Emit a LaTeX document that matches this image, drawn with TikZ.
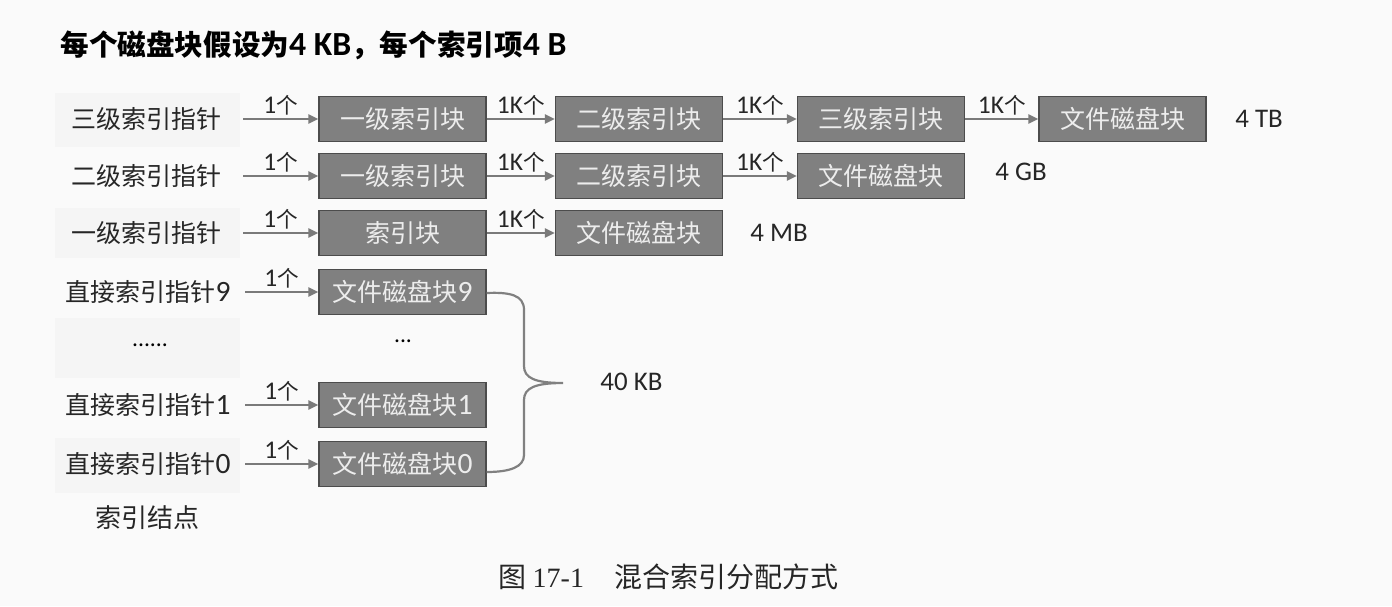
\documentclass[tikz,border=0pt]{standalone}
\usepackage{fontspec}
\setmainfont{Noto Sans CJK SC}
\newfontfamily\lat[Scale=1.18]{Carlito}
\newfontfamily\latserif{Liberation Serif}
\usetikzlibrary{arrows.meta}
\begin{document}
\begin{tikzpicture}[x=0.5pt,y=-0.5pt,
 blk/.style={draw=black!70, line width=0.6pt, fill=black!50, text=black!7, minimum width=83.5pt, minimum height=22.5pt, inner sep=0pt, font=\fontsize{12.5}{14}\selectfont},
 lbl/.style={anchor=east, font=\fontsize{12.5}{14}\selectfont, text=black!85, inner sep=0pt},
 cnt/.style={font=\fontsize{10.8}{12}\selectfont, above, inner sep=1.5pt, text=black!85},
 arr/.style={draw=black!52, line width=1.1pt, -{Triangle[length=5pt,width=4.5pt]}},
 sz/.style={anchor=west, font=\lat\fontsize{11.4}{14}\selectfont, inner sep=0pt, text=black!85},
 tex/.style={fill=black!4},
]
\useasboundingbox (0,0) rectangle (1392,606);
\fill[black!2] (0,0) rectangle (1392,606);
% faint textured panels
\fill[tex] (55,93) rectangle (240,147);
\fill[tex] (55,208) rectangle (240,258);
\fill[tex] (55,318) rectangle (240,378);
\fill[tex] (55,438) rectangle (240,493);

% title
\node[anchor=west, inner sep=0pt, font=\bfseries\fontsize{14.3}{16}\selectfont] (title) at (60,45)
  {每个磁盘块假设为{\lat\bfseries 4 KB}，每个索引项{\lat\bfseries 4 B}};

% left labels
\node[lbl] (la) at (222,119) {三级索引指针};
\node[lbl] (lb) at (222,176) {二级索引指针};
\node[lbl] (lc) at (222,233) {一级索引指针};
\node[lbl] (l9) at (231,292) {直接索引指针{\lat 9}};
\node[inner sep=0pt, font=\lat\fontsize{10}{12}\selectfont] (ldots) at (150,345) {......};
\node[lbl] (l1) at (231,405) {直接索引指针{\lat 1}};
\node[lbl] (l0) at (231,464) {直接索引指针{\lat 0}};
\node[inner sep=0pt, font=\fontsize{13}{15}\selectfont, text=black!85] (inode) at (147,518) {索引结点};

% arrow start points
\coordinate (sa) at (243,119);
\coordinate (sb) at (243,176);
\coordinate (sc) at (243,233);
\coordinate (s9) at (245,292);
\coordinate (s1) at (245,405);
\coordinate (s0) at (245,464);

% row a
\node[blk] (a1) at (402.5,119) {一级索引块};
\node[blk] (a2) at (639,119) {二级索引块};
\node[blk] (a3) at (881,119) {三级索引块};
\node[blk] (a4) at (1122.5,119) {文件磁盘块};
\node[sz] (ta) at (1235,119) {4 TB};
% row b
\node[blk] (b1) at (402.5,176) {一级索引块};
\node[blk] (b2) at (639,176) {二级索引块};
\node[blk] (b3) at (881,176) {文件磁盘块};
\node[sz] (tb) at (995,172) {4 GB};
% row c
\node[blk] (c1) at (402.5,233) {索引块};
\node[blk] (c2) at (639,233) {文件磁盘块};
\node[sz] (tc) at (750,233) {4 MB};
% direct
\node[blk] (d9) at (402.5,292) {文件磁盘块{\lat 9}};
\node[inner sep=0pt, font=\lat\fontsize{10}{12}\selectfont] (ddots) at (403,341) {...};
\node[blk] (d1) at (402.5,405) {文件磁盘块{\lat 1}};
\node[blk] (d0) at (402.5,464) {文件磁盘块{\lat 0}};
\node[sz] (tk) at (600,382) {40 KB};

% arrows
\draw[arr] (sa) -- (a1) node[cnt,midway] {{\lat 1}个};
\draw[arr] (a1) -- (a2) node[cnt,midway] {{\lat 1K}个};
\draw[arr] (a2) -- (a3) node[cnt,midway] {{\lat 1K}个};
\draw[arr] (a3) -- (a4) node[cnt,midway] {{\lat 1K}个};
\draw[arr] (sb) -- (b1) node[cnt,midway] {{\lat 1}个};
\draw[arr] (b1) -- (b2) node[cnt,midway] {{\lat 1K}个};
\draw[arr] (b2) -- (b3) node[cnt,midway] {{\lat 1K}个};
\draw[arr] (sc) -- (c1) node[cnt,midway] {{\lat 1}个};
\draw[arr] (c1) -- (c2) node[cnt,midway] {{\lat 1K}个};
\draw[arr] (s9) -- (d9) node[cnt,midway] {{\lat 1}个};
\draw[arr] (s1) -- (d1) node[cnt,midway] {{\lat 1}个};
\draw[arr] (s0) -- (d0) node[cnt,midway] {{\lat 1}个};

% brace
\coordinate (bt) at ([yshift=-0.5pt]d9.east);
\coordinate (bb) at ([yshift=-4pt]d0.east);
\draw[black!50, line width=1.1pt]
  (bt) .. controls (510,292) and (524,295) .. (524,310)
  -- (524,366) .. controls (524,378) and (535,383) .. (563,383)
  .. controls (535,383) and (524,388) .. (524,400)
  -- (524,455) .. controls (524,467) and (510,472) .. (bb);

% caption
\node[anchor=west, inner sep=0pt, font=\fontsize{14}{16}\selectfont, text=black!85] (cap) at (498,577)
  {图 {\latserif 17-1}\hspace{1.1em}混合索引分配方式};
\end{tikzpicture}
\end{document}
